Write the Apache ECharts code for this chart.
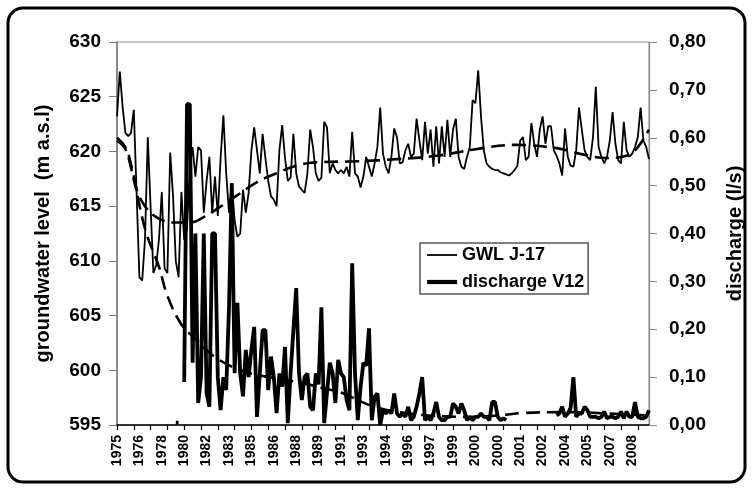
<!DOCTYPE html>
<html>
<head>
<meta charset="utf-8">
<title>groundwater level and discharge</title>
<script src="https://cdn.jsdelivr.net/npm/echarts/dist/echarts.min.js"></script>
<style>
  html, body { margin: 0; padding: 0; background: #fff; }
  #chart { width: 753px; height: 490px; }
</style>
</head>
<body>
<div id="chart"></div>
<script>
// x axis: one label every 8 points, one tick every 6 points
const yearLabels = ["1975", "1976", "1978", "1980", "1982", "1983", "1985", "1986", "1988", "1989", "1991", "1993",
  "1994", "1996", "1997", "1999", "2000", "2000", "2001", "2002", "2004", "2005", "2007", "2008"];
const pointsPerLabel = 8;
const pointsPerTick = 6;

// groundwater level J-17 (m a.s.l), left axis
const gwl = [
  623.2, 627.3, 624.1, 621.7, 621.4, 621.7, 623.8, 616.2, 608.5, 608.2,
  612.0, 621.3, 614.9, 608.9, 609.6, 612.0, 616.3, 609.3, 608.9, 619.9,
  616.0, 610.0, 608.5, 616.3, 611.9, 612.9, 618.6, 620.4, 617.7, 620.4,
  620.1, 614.4, 617.3, 619.5, 614.4, 617.7, 614.1, 619.4, 623.3, 618.0,
  614.4, 617.1, 613.7, 612.2, 612.5, 616.5, 614.4, 616.2, 620.1, 622.2,
  620.1, 618.0, 621.6, 619.4, 617.3, 615.9, 615.6, 615.0, 620.1, 622.4,
  619.4, 617.3, 617.6, 621.6, 618.0, 616.8, 616.5, 616.2, 618.0, 622.0,
  620.4, 618.0, 617.3, 617.6, 622.7, 622.2, 618.0, 618.9, 618.3, 618.0,
  618.3, 618.0, 618.6, 617.7, 621.8, 618.0, 617.7, 616.7, 617.7, 619.5,
  618.6, 617.7, 618.9, 620.4, 624.0, 619.8, 618.6, 618.0, 619.5, 622.1,
  621.3, 618.9, 619.0, 620.1, 620.7, 619.5, 619.8, 623.0, 621.0, 619.2,
  622.7, 619.8, 622.0, 618.6, 622.3, 618.9, 622.3, 619.5, 622.9, 619.5,
  622.0, 623.0, 619.5, 618.6, 618.4, 619.5, 620.4, 624.7, 624.4, 627.4,
  623.2, 620.1, 618.9, 618.6, 618.4, 618.3, 618.3, 618.1, 618.0, 617.9,
  617.8, 618.0, 618.3, 618.7, 621.0, 621.3, 619.2, 619.5, 622.6, 620.7,
  619.5, 622.0, 623.2, 620.7, 622.3, 622.3, 620.1, 619.6, 618.9, 617.8,
  622.1, 619.5, 618.7, 618.6, 620.1, 624.0, 622.0, 620.1, 619.5, 619.2,
  621.3, 625.9, 620.4, 619.5, 618.9, 619.5, 621.0, 623.6, 620.7, 619.2,
  618.9, 622.7, 620.1, 619.5, 619.8, 620.4, 621.3, 624.0, 621.0, 620.4,
  619.3
];

// discharge V12 (l/s), right axis
const discharge = [
  null, null, null, null, null, null, null, null, null, null,
  null, null, null, null, null, null, null, null, null, null,
  null, 0.005, 0.005, null, 0.09, 0.67, 0.67, 0.13, 0.40, 0.046,
  0.10, 0.40, 0.067, 0.038, 0.40, 0.40, 0.10, 0.031, 0.10, 0.073,
  0.246, 0.505, 0.108, 0.255, 0.108, 0.06, 0.157, 0.10, 0.157, 0.205,
  0.017, 0.108, 0.198, 0.198, 0.073, 0.143, 0.10, 0.025, 0.108, 0.08,
  0.163, 0.004, 0.108, 0.198, 0.286, 0.108, 0.052, 0.10, 0.108, 0.038,
  0.031, 0.108, 0.085, 0.246, 0.004, 0.067, 0.13, 0.108, 0.046, 0.136,
  0.108, 0.10, 0.052, 0.031, 0.338, 0.108, 0.01, 0.08, 0.13, 0.124,
  0.202, 0.01, 0.059, 0.066, 0.0, 0.031, 0.024, 0.031, 0.024, 0.066,
  0.024, 0.017, 0.024, 0.017, 0.038, 0.01, 0.017, 0.038, 0.066, 0.10,
  0.01, 0.017, 0.01, 0.024, 0.048, 0.017, 0.01, 0.01, 0.017, 0.017,
  0.045, 0.038, 0.024, 0.045, 0.031, 0.01, 0.017, 0.01, 0.017, 0.017,
  0.024, 0.017, 0.017, 0.01, 0.048, 0.048, 0.017, 0.01, 0.014, 0.01,
  null, null, null, null, null, null, null, null, null, null,
  null, null, null, null, null, null, null, 0.02, 0.024, 0.038,
  0.017, 0.024, 0.035, 0.10, 0.017, 0.024, 0.024, 0.038, 0.031, 0.017,
  0.017, 0.017, 0.014, 0.017, 0.028, 0.014, 0.017, 0.017, 0.014, 0.017,
  0.028, 0.014, 0.028, 0.017, 0.017, 0.048, 0.017, 0.014, 0.014, 0.017,
  0.031
];

// dashed trend lines, [point index, value]
const gwlTrend = [
  [0, 621.0], [3, 620.2], [5, 618.5], [7, 616.5], [10, 615.0], [14, 614.0], [20, 613.5], [26, 613.5],
  [31, 614.0], [36, 614.8], [43, 616.0], [50, 617.2], [57, 618.0], [64, 618.7], [71, 619.0], [86, 619.1],
  [100, 619.3], [114, 619.6], [128, 620.2], [142, 620.6], [157, 620.3], [165, 619.8], [175, 619.4],
  [182, 619.6], [186, 620.4], [190, 622.0]
];
const dischargeTrend = [
  [0, 0.60], [3, 0.58], [5, 0.545], [10, 0.41], [15, 0.33], [18, 0.27], [23, 0.21], [28, 0.18],
  [35, 0.142], [44, 0.115], [54, 0.10], [66, 0.088], [75, 0.075], [80, 0.068], [91, 0.04], [103, 0.025],
  [126, 0.017], [138, 0.021], [145, 0.025], [160, 0.027], [175, 0.024], [190, 0.02]
];

const categories = gwl.map((v, i) =>
  i % pointsPerLabel === 0 && yearLabels[i / pointsPerLabel] ? yearLabels[i / pointsPerLabel] : "");

const font = "'Liberation Sans', Arial, sans-serif";
const gwlWidth = 1.8;
const dischargeWidth = 3.8;
const chart = echarts.init(document.getElementById("chart"));

chart.setOption({
  animation: false,
  textStyle: { fontFamily: font },
  graphic: [{
    type: "rect",
    shape: { x: 8, y: 8, width: 737, height: 474, r: 15 },
    style: { fill: "none", stroke: "#000", lineWidth: 3 },
    silent: true
  }],
  grid: {
    left: 117, right: 101, top: 42, bottom: 65,
    show: true, borderColor: "#8a8a8a", borderWidth: 1, backgroundColor: "transparent"
  },
  legend: {
    data: [
      { name: "GWL J-17", lineStyle: { width: gwlWidth, color: "#000" } },
      { name: "discharge V12", lineStyle: { width: dischargeWidth + 0.4, color: "#000" } }
    ],
    orient: "vertical",
    left: 420, top: 243,
    itemWidth: 30, itemHeight: 18, itemGap: 9,
    padding: [3, 4, 3, 5],
    backgroundColor: "#fff",
    borderColor: "#555", borderWidth: 1.5, borderRadius: 0,
    // hide the marker circle, keep only the line sample
    itemStyle: { opacity: 0 },
    textStyle: { fontFamily: font, fontWeight: "bold", fontSize: 18, color: "#000" }
  },
  xAxis: {
    type: "category",
    boundaryGap: false,
    data: categories,
    axisLine: { lineStyle: { color: "#000", width: 1.5 } },
    axisTick: {
      interval: (i) => i % pointsPerTick === 0,
      length: 5,
      lineStyle: { color: "#000", width: 1.2 }
    },
    axisLabel: {
      interval: (i) => i % pointsPerLabel === 0,
      rotate: 90,
      margin: 10,
      color: "#000",
      fontFamily: font,
      fontWeight: "bold",
      fontSize: 14
    },
    splitLine: { show: false }
  },
  yAxis: [
    {
      type: "value",
      min: 595, max: 630, interval: 5,
      name: "groundwater level  (m a.s.l)",
      nameLocation: "middle",
      nameRotate: 90,
      nameGap: 64,
      nameTextStyle: { fontFamily: font, fontWeight: "bold", fontSize: 20, color: "#000" },
      axisLine: { show: true, lineStyle: { color: "#777", width: 1.5 } },
      axisTick: { show: true, length: 8, lineStyle: { color: "#777" } },
      axisLabel: { margin: 16, color: "#000", fontFamily: font, fontWeight: "bold", fontSize: 19 },
      splitLine: { show: false }
    },
    {
      type: "value",
      min: 0, max: 0.8, interval: 0.1,
      name: "discharge (l/s)",
      nameLocation: "middle",
      nameRotate: 90,
      nameGap: 76,
      nameTextStyle: { fontFamily: font, fontWeight: "bold", fontSize: 20, color: "#000" },
      axisLine: { show: true, lineStyle: { color: "#888", width: 1.2 } },
      axisTick: { show: true, length: 8, lineStyle: { color: "#888" } },
      axisLabel: {
        margin: 20, color: "#000", fontFamily: font, fontWeight: "bold", fontSize: 19,
        formatter: (v) => v.toFixed(2).replace(".", ",")
      },
      splitLine: { show: false }
    }
  ],
  series: [
    {
      name: "GWL J-17",
      type: "line",
      yAxisIndex: 0,
      data: gwl,
      symbol: "none",
      lineStyle: { color: "#000", width: gwlWidth },
      itemStyle: { color: "#000" },
      z: 2
    },
    {
      name: "discharge V12",
      type: "line",
      yAxisIndex: 1,
      data: discharge,
      symbol: "none",
      connectNulls: false,
      lineStyle: { color: "#000", width: dischargeWidth },
      itemStyle: { color: "#000" },
      z: 3
    },
    {
      name: "GWL trend",
      type: "line",
      yAxisIndex: 0,
      data: gwlTrend,
      symbol: "none",
      smooth: 0.4,
      lineStyle: { color: "#000", width: 2.6, type: [14, 7] },
      z: 4
    },
    {
      name: "discharge trend",
      type: "line",
      yAxisIndex: 1,
      data: dischargeTrend,
      symbol: "none",
      smooth: 0.4,
      lineStyle: { color: "#000", width: 2.6, type: [14, 7] },
      z: 4
    }
  ]
});

window.addEventListener("resize", () => chart.resize());
</script>
</body>
</html>
